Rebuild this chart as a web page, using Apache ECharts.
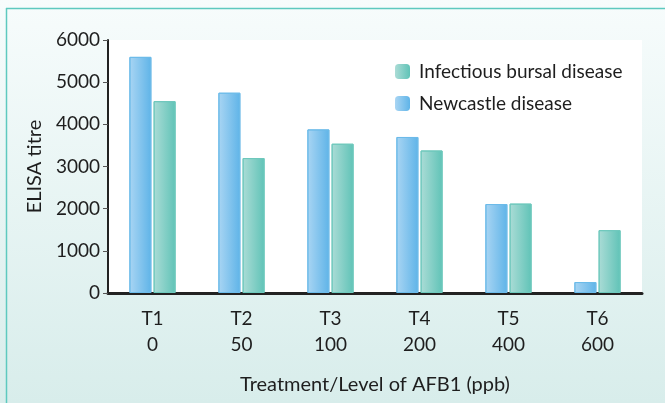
<!DOCTYPE html>
<html><head><meta charset="utf-8">
<script src="https://cdn.jsdelivr.net/npm/echarts@6/dist/echarts.min.js"></script>
<style>html,body{margin:0;padding:0;}#c{width:665px;height:403px;}</style>
</head><body><div id="c"></div>
<script>
const treatments = ['T1','T2','T3','T4','T5','T6'];
const levels = ['0','50','100','200','400','600'];
const newcastle = [5600, 4750, 3880, 3700, 2110, 260];
const ibd = [4550, 3200, 3540, 3380, 2120, 1490];
const yTicks = [0, 1000, 2000, 3000, 4000, 5000, 6000];

const FONT = 'Lato';
const chart = echarts.init(document.getElementById('c'));
const grad = (a, b) => new echarts.graphic.LinearGradient(0, 0, 1, 0, [{offset:0,color:a},{offset:1,color:b}]);
chart.setOption({
  backgroundColor: new echarts.graphic.LinearGradient(0,0,0,1,[{offset:0,color:'#f7fcfc'},{offset:1,color:'#d8edeb'}]),
  graphic: [
    {type:'line', shape:{x1:6,y1:8.5,x2:665,y2:8.5}, style:{stroke:'#5ec9bf', lineWidth:1.5}},
    {type:'line', shape:{x1:6.5,y1:8,x2:6.5,y2:403}, style:{stroke:'#5ec9bf', lineWidth:1.5}}
  ],
  textStyle: {fontFamily: FONT},
  grid: {left:108, right:23, top:40, bottom:110, show:true, backgroundColor:'#ffffff', borderWidth:0},
  legend: {
    orient:'vertical', left:390, top:57, itemWidth:15, itemHeight:15, itemGap:13,
    data:['Infectious bursal disease','Newcastle disease'],
    textStyle:{fontFamily:FONT, fontSize:19, color:'#1e1e1e', lineHeight:15, padding:[0,0,0,4]},
    itemStyle:{borderWidth:0}
  },
  xAxis: {
    type:'category', data: treatments.map((t,i)=>t+'\n'+levels[i]),
    axisLine:{lineStyle:{color:'#222', width:3}},
    axisTick:{show:false},
    axisLabel:{fontFamily:FONT, fontSize:19, color:'#1e1e1e', lineHeight:26, margin:13},
    name:'Treatment/Level of AFB1 (ppb)', nameLocation:'middle', nameGap:82,
    nameTextStyle:{fontFamily:FONT, fontSize:20, color:'#1e1e1e'}
  },
  yAxis: {
    type:'value', min:0, max:6000, interval:1000,
    axisLine:{show:true, lineStyle:{color:'#222', width:2}},
    axisTick:{show:true, length:5, lineStyle:{color:'#555'}},
    splitLine:{show:false},
    axisLabel:{fontFamily:FONT, fontSize:19, color:'#1e1e1e', margin:8,
      formatter:(v)=> yTicks.includes(v) ? String(v) : ''},
    name:'ELISA titre', nameLocation:'middle', nameGap:63,
    nameTextStyle:{fontFamily:FONT, fontSize:20, color:'#1e1e1e'}
  },
  series: [
    {name:'Newcastle disease', type:'bar', data:newcastle, barWidth:22, barGap:'10%',
     itemStyle:{color:grad('#a9d5f3','#5fb4e8'), borderColor:'#6cbbe9', borderWidth:1}},
    {name:'Infectious bursal disease', type:'bar', data:ibd, barWidth:22,
     itemStyle:{color:grad('#abdcd6','#60c3b7'), borderColor:'#6ec8bc', borderWidth:1}}
  ]
});
</script></body></html>
